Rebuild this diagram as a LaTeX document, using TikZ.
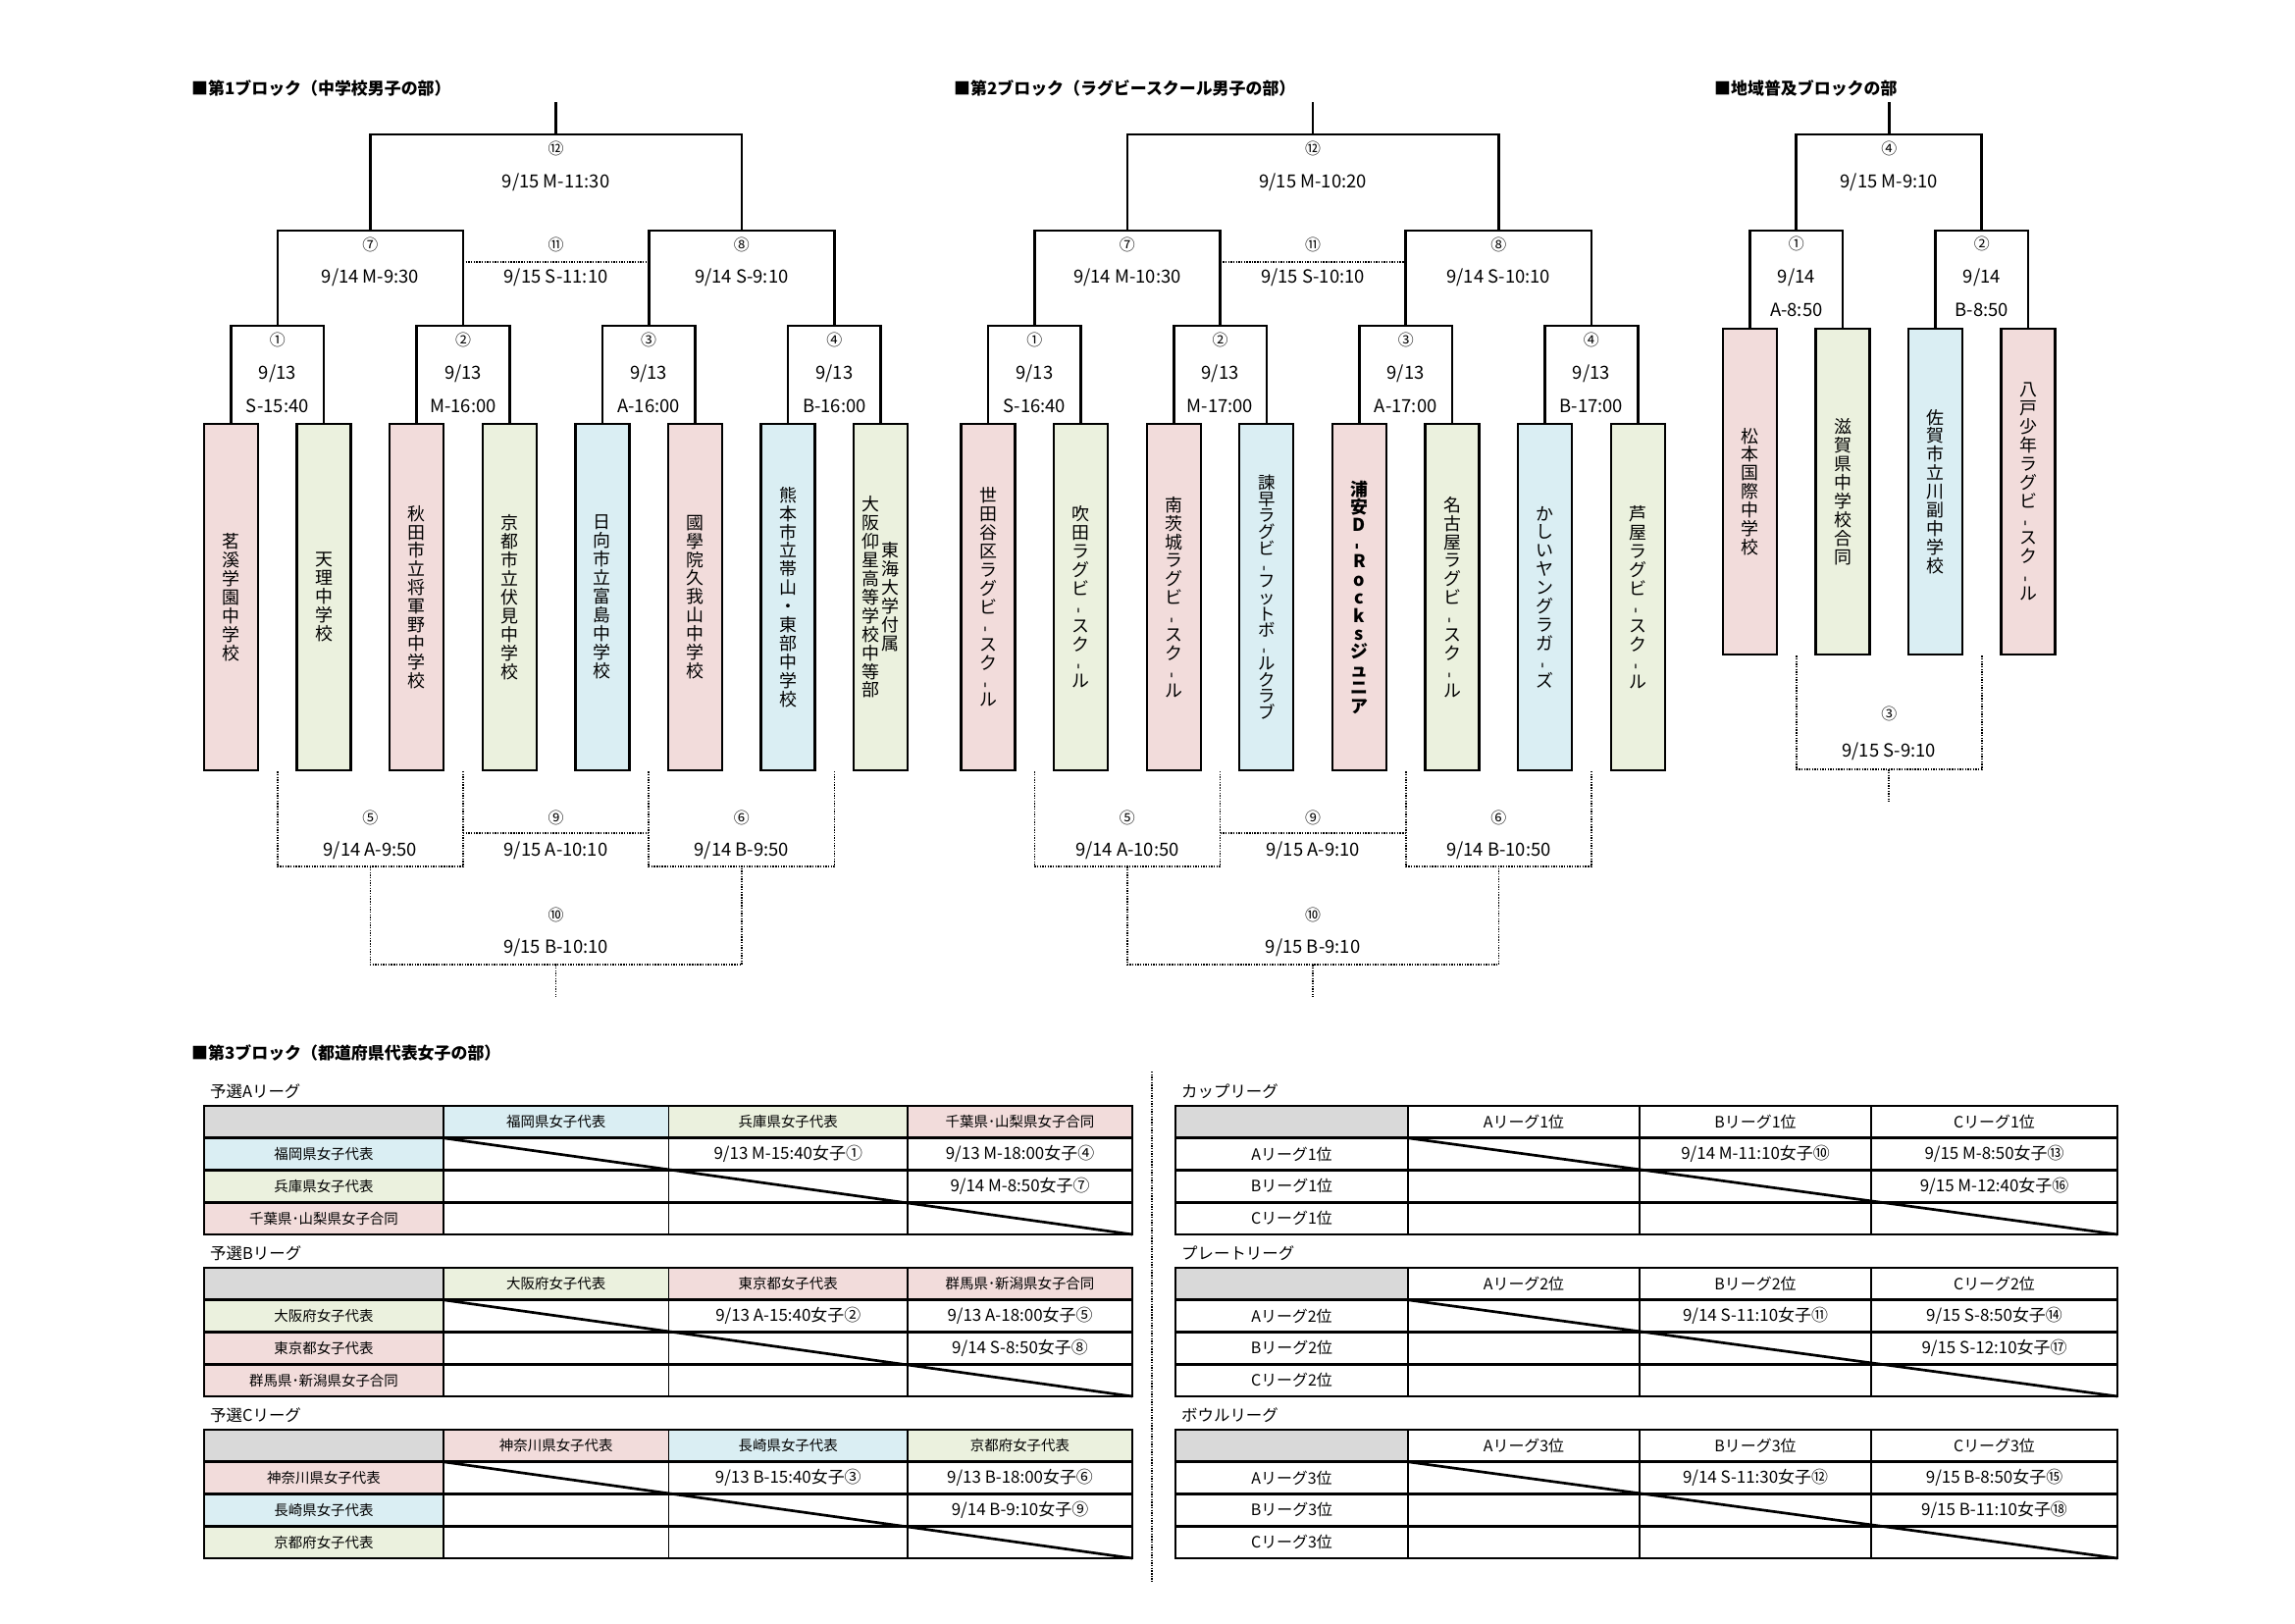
\documentclass[tikz,border=0pt]{standalone}
\usepackage{fontspec}
\usepackage{graphicx}
\setmainfont{Noto Sans CJK JP}
\usetikzlibrary{calc}
\definecolor{pk}{HTML}{F2DCDB}
\definecolor{gr}{HTML}{EBF1DE}
\definecolor{bl}{HTML}{DAEEF3}
\definecolor{hg}{HTML}{D9D9D9}
\newcommand\vd{\rotatebox[origin=c]{90}{-}}
\tikzset{
  br/.style={line width=2.6pt},
  dt/.style={line width=1.6pt, dash pattern=on 1.4pt off 1.3pt},
  team/.style={draw, line width=2.3pt, minimum width=55bp, minimum height=353bp, inner sep=0pt, align=center, font=\fontsize{18}{19}\selectfont},
  vtxt/.style={inner sep=0pt, align=center, font=\fontsize{18}{19}\selectfont},
  circ/.style={inner sep=0pt, font=\fontsize{16}{16}\selectfont},
  tm/.style={inner sep=0pt, font=\fontsize{18.5}{19}\selectfont},
  ttl/.style={inner sep=0pt, anchor=west, font=\fontsize{17}{17}\selectfont\bfseries},
  lgt/.style={inner sep=0pt, anchor=west, font=\fontsize{16.5}{17}\selectfont},
  hd/.style={inner sep=0pt, minimum height=32.75bp, font=\hfont},
  cl/.style={inner sep=0pt, font=\fontsize{17}{17}\selectfont},
  th/.style={line width=2.7pt},
  tv/.style={line width=1.9pt}
}
\newcommand\hfont{\fontsize{14.5}{15}\selectfont}
% ---------- 8-team bracket ----------
\newcommand\eightblock[1]{%
  \foreach \ia/\ib/\kk in {0/1/0,2/3/1,4/5/2,6/7/3}{%
    \coordinate (#1m\kk) at ($(#1t\ia.north)!0.5!(#1t\ib.north)+(0,-99)$);
    \draw[br] (#1t\ia.north) |- (#1m\kk) -| (#1t\ib.north);
    \coordinate (#1bm\kk) at ($(#1t\ia.south)!0.5!(#1t\ib.south)$);
  }
  \foreach \ia/\ib/\kk in {0/1/0,2/3/1}{%
    \coordinate (#1n\kk) at ($(#1m\ia)!0.5!(#1m\ib)+(0,-97)$);
    \draw[br] (#1m\ia) |- (#1n\kk) -| (#1m\ib);
    \coordinate (#1bn\kk) at ($(#1bm\ia)!0.5!(#1bm\ib)+(0,97)$);
    \draw[dt] (#1bm\ia) |- (#1bn\kk) -| (#1bm\ib);
  }
  \coordinate (#1top) at ($(#1n0)!0.5!(#1n1)+(0,-98)$);
  \draw[br] (#1n0) |- (#1top) -| (#1n1);
  \coordinate (#1stub) at ($(#1top)+(0,-33)$);
  \draw[br] (#1top) -- (#1stub);
  \coordinate (#1da) at ($(#1m1)+(0,-65)$);
  \coordinate (#1db) at ($(#1m2)+(0,-65)$);
  \draw[dt] (#1da) -- (#1db);
  \coordinate (#1dc) at ($(#1bm1)+(0,63)$);
  \coordinate (#1dd) at ($(#1bm2)+(0,63)$);
  \draw[dt] (#1dc) -- (#1dd);
  \coordinate (#1bt) at ($(#1bn0)!0.5!(#1bn1)+(0,100)$);
  \draw[dt] (#1bn0) |- (#1bt) -| (#1bn1);
  \coordinate (#1bstub) at ($(#1bt)+(0,33)$);
  \draw[dt] (#1bt) -- (#1bstub);
}
\newcommand\toplabels[9]{%
  \node[circ] (#1L12) at ($(#1top)+(0,15)$) {⑫};
  \node[tm] (#1T12) at ($(#1top)+(0,49)$) {#2};
  \node[circ] (#1L7) at ($(#1n0)+(0,15)$) {⑦};
  \node[tm] (#1T7) at ($(#1n0)+(0,48)$) {#3};
  \node[circ] (#1L11) at ($(#1top)+(0,113)$) {⑪};
  \node[tm] (#1T11) at ($(#1top)+(0,146)$) {#4};
  \node[circ] (#1L8) at ($(#1n1)+(0,15)$) {⑧};
  \node[tm] (#1T8) at ($(#1n1)+(0,48)$) {#5};
  \node[circ] (#1L1) at ($(#1m0)+(0,15)$) {①};
  \node[tm] (#1D1) at ($(#1m0)+(0,49)$) {9/13};
  \node[tm] (#1T1) at ($(#1m0)+(0,82)$) {#6};
  \node[circ] (#1L2) at ($(#1m1)+(0,15)$) {②};
  \node[tm] (#1D2) at ($(#1m1)+(0,49)$) {9/13};
  \node[tm] (#1T2) at ($(#1m1)+(0,82)$) {#7};
  \node[circ] (#1L3) at ($(#1m2)+(0,15)$) {③};
  \node[tm] (#1D3) at ($(#1m2)+(0,49)$) {9/13};
  \node[tm] (#1T3) at ($(#1m2)+(0,82)$) {#8};
  \node[circ] (#1L4) at ($(#1m3)+(0,15)$) {④};
  \node[tm] (#1D4) at ($(#1m3)+(0,49)$) {9/13};
  \node[tm] (#1T4) at ($(#1m3)+(0,82)$) {#9};
}
\newcommand\botlabels[5]{%
  \node[circ] (#1L5) at ($(#1bn0)+(0,-50)$) {⑤};
  \node[tm] (#1T5) at ($(#1bn0)+(0,-16)$) {#2};
  \node[circ] (#1L9) at ($(#1bt)+(0,-150)$) {⑨};
  \node[tm] (#1T9) at ($(#1bt)+(0,-116)$) {#3};
  \node[circ] (#1L6) at ($(#1bn1)+(0,-50)$) {⑥};
  \node[tm] (#1T6) at ($(#1bn1)+(0,-16)$) {#4};
  \node[circ] (#1L10) at ($(#1bt)+(0,-51)$) {⑩};
  \node[tm] (#1T10) at ($(#1bt)+(0,-17)$) {#5};
}
% ---------- league tables ----------
\newcommand\setcols[5]{\def\xA{#1}\def\xB{#2}\def\xC{#3}\def\xD{#4}\def\xE{#5}}
\newcommand\lgtab[8]{%
  \node[hd, fill=hg, minimum width={(\xB-\xA)*1bp}] (#1h0) at ({(\xA+\xB)/2},{#2+16.375}) {};
  \node[hd, fill=#3, minimum width={(\xC-\xB)*1bp}] (#1h1) at ({(\xB+\xC)/2},{#2+16.375}) {#4};
  \node[hd, fill=#5, minimum width={(\xD-\xC)*1bp}] (#1h2) at ({(\xC+\xD)/2},{#2+16.375}) {#6};
  \node[hd, fill=#7, minimum width={(\xE-\xD)*1bp}] (#1h3) at ({(\xD+\xE)/2},{#2+16.375}) {#8};
  \node[hd, fill=#3, minimum width={(\xB-\xA)*1bp}] (#1r1) at ({(\xA+\xB)/2},{#2+49.125}) {#4};
  \node[hd, fill=#5, minimum width={(\xB-\xA)*1bp}] (#1r2) at ({(\xA+\xB)/2},{#2+81.875}) {#6};
  \node[hd, fill=#7, minimum width={(\xB-\xA)*1bp}] (#1r3) at ({(\xA+\xB)/2},{#2+114.625}) {#8};
  \foreach \yy in {32.75,65.5,98.25}{\draw[th] (\xA,{#2+\yy}) -- (\xE,{#2+\yy});}
  \foreach \xx in {\xB,\xC,\xD}{\draw[tv] (\xx,#2) -- (\xx,{#2+131});}
  \draw[th] (\xA,#2) rectangle (\xE,{#2+131});
  \draw[th] (\xB,{#2+32.75}) -- (\xE,{#2+131});
}
\newcommand\lgcells[5]{%
  \node[cl] (#1c12) at ({(\xC+\xD)/2},{#2+49.125}) {#3};
  \node[cl] (#1c13) at ({(\xD+\xE)/2},{#2+49.125}) {#4};
  \node[cl] (#1c23) at ({(\xD+\xE)/2},{#2+81.875}) {#5};
}
\begin{document}
\begin{tikzpicture}[x=1bp,y=-1bp]
\useasboundingbox[fill=white] (0,0) rectangle (2339,1654);
% ===== titles =====
\node[ttl] (ti1) at (195,90) {■第1ブロック（中学校男子の部）};
\node[ttl] (ti2) at (972,90) {■第2ブロック（ラグビースクール男子の部）};
\node[ttl] (ti3) at (1747,90) {■地域普及ブロックの部};
\node[ttl] (ti4) at (195,1073) {■第3ブロック（都道府県代表女子の部）};
% ===== block 1 teams =====
\node[team, fill=pk] (At0) at (235.5,608.5) {茗\\溪\\学\\園\\中\\学\\校};
\node[team, fill=gr] (At1) at (330.1,608.5) {天\\理\\中\\学\\校};
\node[team, fill=pk] (At2) at (424.7,608.5) {秋\\田\\市\\立\\将\\軍\\野\\中\\学\\校};
\node[team, fill=gr] (At3) at (519.3,608.5) {京\\都\\市\\立\\伏\\見\\中\\学\\校};
\node[team, fill=bl] (At4) at (613.9,608.5) {日\\向\\市\\立\\富\\島\\中\\学\\校};
\node[team, fill=pk] (At5) at (708.5,608.5) {國\\學\\院\\久\\我\\山\\中\\学\\校};
\node[team, fill=bl] (At6) at (803.1,608.5) {熊\\本\\市\\立\\帯\\山\\・\\東\\部\\中\\学\\校};
\node[team, fill=gr] (At7) at (897.7,608.5) {};
\node[vtxt] (At7a) at (907.7,608.5) {東\\海\\大\\学\\付\\属};
\node[vtxt] (At7b) at (887.2,608.5) {大\\阪\\仰\\星\\高\\等\\学\\校\\中\\等\\部};
\eightblock{A}
\toplabels{A}{9/15 M-11:30}{9/14 M-9:30}{9/15 S-11:10}{9/14 S-9:10}{S-15:40}{M-16:00}{A-16:00}{B-16:00}
\botlabels{A}{9/14 A-9:50}{9/15 A-10:10}{9/14 B-9:50}{9/15 B-10:10}
% ===== block 2 teams =====
\node[team, fill=pk] (Bt0) at (1007,608.5) {世\\田\\谷\\区\\ラ\\グ\\ビ\\\vd\\ス\\ク\\\vd\\ル};
\node[team, fill=gr] (Bt1) at (1101.6,608.5) {吹\\田\\ラ\\グ\\ビ\\\vd\\ス\\ク\\\vd\\ル};
\node[team, fill=pk] (Bt2) at (1196.2,608.5) {南\\茨\\城\\ラ\\グ\\ビ\\\vd\\ス\\ク\\\vd\\ル};
\node[team, fill=bl, font=\fontsize{17.5}{16.8}\selectfont] (Bt3) at (1290.8,608.5) {諫\\早\\ラ\\グ\\ビ\\\vd\\フ\\ッ\\ト\\ボ\\\vd\\ル\\ク\\ラ\\ブ};
\node[team, fill=pk, font=\fontsize{18}{18.5}\selectfont\bfseries] (Bt4) at (1385.4,608.5) {浦\\安\\D\\\vd\\R\\o\\c\\k\\s\\ジ\\ュ\\ニ\\ア};
\node[team, fill=gr] (Bt5) at (1480,608.5) {名\\古\\屋\\ラ\\グ\\ビ\\\vd\\ス\\ク\\\vd\\ル};
\node[team, fill=bl] (Bt6) at (1574.6,608.5) {か\\し\\い\\ヤ\\ン\\グ\\ラ\\ガ\\\vd\\ズ};
\node[team, fill=gr] (Bt7) at (1669.2,608.5) {芦\\屋\\ラ\\グ\\ビ\\\vd\\ス\\ク\\\vd\\ル};
\eightblock{B}
\toplabels{B}{9/15 M-10:20}{9/14 M-10:30}{9/15 S-10:10}{9/14 S-10:10}{S-16:40}{M-17:00}{A-17:00}{B-17:00}
\botlabels{B}{9/14 A-10:50}{9/15 A-9:10}{9/14 B-10:50}{9/15 B-9:10}
% ===== block 3 (regional) =====
\node[team, fill=pk, minimum height=332bp] (Ct0) at (1783.5,501) {松\\本\\国\\際\\中\\学\\校};
\node[team, fill=gr, minimum height=332bp] (Ct1) at (1878,501) {滋\\賀\\県\\中\\学\\校\\合\\同};
\node[team, fill=bl, minimum height=332bp] (Ct2) at (1972.5,501) {佐\\賀\\市\\立\\川\\副\\中\\学\\校};
\node[team, fill=pk, minimum height=332bp] (Ct3) at (2067,501) {八\\戸\\少\\年\\ラ\\グ\\ビ\\\vd\\ス\\ク\\\vd\\ル};
\coordinate (Cm0) at ($(Ct0.north)!0.5!(Ct1.north)+(0,-99)$);
\coordinate (Cm1) at ($(Ct2.north)!0.5!(Ct3.north)+(0,-99)$);
\draw[br] (Ct0.north) |- (Cm0) -| (Ct1.north);
\draw[br] (Ct2.north) |- (Cm1) -| (Ct3.north);
\coordinate (Ctop) at ($(Cm0)!0.5!(Cm1)+(0,-98)$);
\draw[br] (Cm0) |- (Ctop) -| (Cm1);
\coordinate (Cstub) at ($(Ctop)+(0,-33)$);
\draw[br] (Ctop) -- (Cstub);
\coordinate (Cbm0) at ($(Ct0.south)!0.5!(Ct1.south)$);
\coordinate (Cbm1) at ($(Ct2.south)!0.5!(Ct3.south)$);
\coordinate (Cbn) at ($(Cbm0)!0.5!(Cbm1)+(0,116)$);
\draw[dt] (Cbm0) |- (Cbn) -| (Cbm1);
\coordinate (Cbstub) at ($(Cbn)+(0,33)$);
\draw[dt] (Cbn) -- (Cbstub);
\node[circ] (CL4) at ($(Ctop)+(0,15)$) {④};
\node[tm] (CT4) at ($(Ctop)+(0,49)$) {9/15 M-9:10};
\node[circ] (CL1) at ($(Cm0)+(0,14)$) {①};
\node[tm] (CD1) at ($(Cm0)+(0,48)$) {9/14};
\node[tm] (CT1) at ($(Cm0)+(0,81)$) {A-8:50};
\node[circ] (CL2) at ($(Cm1)+(0,14)$) {②};
\node[tm] (CD2) at ($(Cm1)+(0,48)$) {9/14};
\node[tm] (CT2) at ($(Cm1)+(0,81)$) {B-8:50};
\node[circ] (CL3) at ($(Cbn)+(0,-57)$) {③};
\node[tm] (CT3) at ($(Cbn)+(0,-18)$) {9/15 S-9:10};
% ===== separator =====
\coordinate (sepT) at (1174,1092);
\coordinate (sepB) at (1174,1612);
\draw[dt] (sepT) -- (sepB);
% ===== left tables =====
\renewcommand\hfont{\fontsize{14.5}{15}\selectfont}
\setcols{208}{452}{681.5}{925}{1154}
\node[lgt] (lA) at (214,1112) {予選Aリーグ};
\lgtab{PA}{1127}{bl}{福岡県女子代表}{gr}{兵庫県女子代表}{pk}{千葉県･山梨県女子合同}
\lgcells{PA}{1127}{9/13 M-15:40女子①}{9/13 M-18:00女子④}{9/14 M-8:50女子⑦}
\node[lgt] (lB) at (214,1277) {予選Bリーグ};
\lgtab{PB}{1292}{gr}{大阪府女子代表}{pk}{東京都女子代表}{pk}{群馬県･新潟県女子合同}
\lgcells{PB}{1292}{9/13 A-15:40女子②}{9/13 A-18:00女子⑤}{9/14 S-8:50女子⑧}
\node[lgt] (lC) at (214,1442) {予選Cリーグ};
\lgtab{PC}{1457}{pk}{神奈川県女子代表}{bl}{長崎県女子代表}{gr}{京都府女子代表}
\lgcells{PC}{1457}{9/13 B-15:40女子③}{9/13 B-18:00女子⑥}{9/14 B-9:10女子⑨}
% ===== right tables =====
\renewcommand\hfont{\fontsize{16}{16}\selectfont}
\setcols{1198}{1435}{1671}{1907}{2158}
\node[lgt] (lD) at (1204,1112) {カップリーグ};
\lgtab{QA}{1127}{white}{Aリーグ1位}{white}{Bリーグ1位}{white}{Cリーグ1位}
\lgcells{QA}{1127}{9/14 M-11:10女子⑩}{9/15 M-8:50女子⑬}{9/15 M-12:40女子⑯}
\node[lgt] (lE) at (1204,1277) {プレートリーグ};
\lgtab{QB}{1292}{white}{Aリーグ2位}{white}{Bリーグ2位}{white}{Cリーグ2位}
\lgcells{QB}{1292}{9/14 S-11:10女子⑪}{9/15 S-8:50女子⑭}{9/15 S-12:10女子⑰}
\node[lgt] (lF) at (1204,1442) {ボウルリーグ};
\lgtab{QC}{1457}{white}{Aリーグ3位}{white}{Bリーグ3位}{white}{Cリーグ3位}
\lgcells{QC}{1457}{9/14 S-11:30女子⑫}{9/15 B-8:50女子⑮}{9/15 B-11:10女子⑱}
\end{tikzpicture}
\end{document}
